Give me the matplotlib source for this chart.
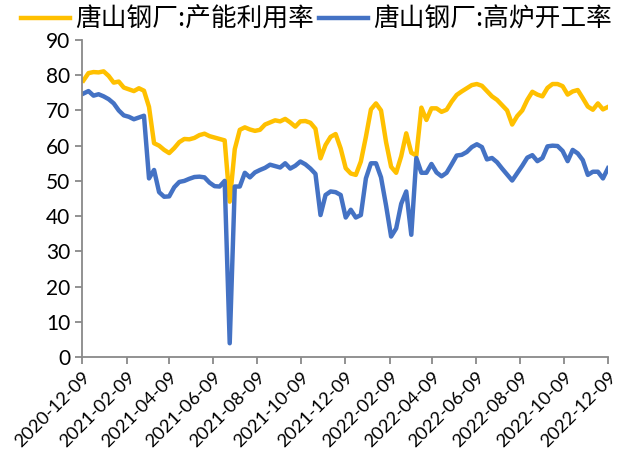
import matplotlib
matplotlib.use('Agg')
import matplotlib.pyplot as plt
import matplotlib.transforms as mtransforms
import pandas as pd

# weekly data, first observation
start_date = '2020-12-11'

# 唐山钢厂:产能利用率 (%)
capacity_util = [
    78.5, 80.6, 80.9, 80.8, 81.1, 79.8, 77.9, 78.2, 76.5, 76.0,
    75.5, 76.3, 75.6, 71.0, 60.7, 60.0, 58.8, 57.9, 59.3, 61.0,
    61.9, 61.8, 62.2, 63.0, 63.4, 62.7, 62.3, 61.9, 61.5, 44.1,
    59.0, 64.5, 65.2, 64.6, 64.2, 64.5, 66.0, 66.6, 67.2, 66.9,
    67.6, 66.6, 65.4, 66.9, 67.0, 66.5, 64.8, 56.4, 60.2, 62.5,
    63.3, 59.2, 53.6, 52.1, 51.7, 55.5, 62.5, 70.3, 72.0, 70.0,
    61.0, 54.0, 52.3, 57.0, 63.5, 58.0, 57.2, 70.8, 67.3, 70.6,
    70.6, 69.6, 70.2, 72.5, 74.4, 75.4, 76.3, 77.2, 77.5, 77.0,
    75.5, 74.0, 73.0, 71.5, 70.0, 66.0, 68.4, 70.0, 73.0, 75.3,
    74.5, 74.0, 76.4, 77.5, 77.5, 76.9, 74.5, 75.4, 75.8, 73.5,
    71.1, 70.2, 72.0, 70.3, 71.0,
]

# 唐山钢厂:高炉开工率 (%)
bf_rate = [
    74.8, 75.5, 74.2, 74.6, 74.0, 73.2, 72.0, 70.0, 68.6, 68.2,
    67.5, 68.0, 68.5, 50.7, 53.1, 46.8, 45.5, 45.6, 48.2, 49.7,
    50.0, 50.6, 51.1, 51.2, 51.0, 49.5, 48.5, 48.4, 50.0, 3.9,
    48.4, 48.4, 52.3, 51.0, 52.4, 53.1, 53.7, 54.6, 54.2, 53.8,
    55.0, 53.5, 54.3, 55.5, 54.7, 53.5, 52.0, 40.3, 46.0, 47.0,
    46.8, 46.0, 39.6, 41.8, 39.6, 40.3, 50.7, 55.0, 55.0, 51.0,
    43.0, 34.2, 36.5, 43.5, 47.0, 34.7, 56.5, 52.3, 52.3, 54.8,
    52.4, 51.3, 52.3, 54.7, 57.2, 57.4, 58.2, 59.6, 60.4, 59.6,
    56.1, 56.5, 55.3, 53.5, 51.8, 50.1, 52.2, 54.3, 56.6, 57.3,
    55.6, 56.5, 59.8, 60.0, 59.9, 58.5, 55.6, 58.8, 57.8, 55.9,
    51.7, 52.6, 52.6, 50.7, 53.6,
]

tick_labels = [
    '2020-12-09', '2021-02-09', '2021-04-09', '2021-06-09', '2021-08-09',
    '2021-10-09', '2021-12-09', '2022-02-09', '2022-04-09', '2022-06-09',
    '2022-08-09', '2022-10-09', '2022-12-09',
]
y_ticks = [0, 10, 20, 30, 40, 50, 60, 70, 80, 90]

dates = pd.date_range(start_date, periods=len(capacity_util), freq='7D')
tick_dates = pd.to_datetime(tick_labels)

plt.rcParams['font.family'] = ['Lato', 'Noto Sans CJK SC', 'DejaVu Sans']

axis_grey = '#898989'

fig = plt.figure(figsize=(6.18, 4.75), dpi=100)
ax = fig.add_axes([82 / 618, 118 / 475, 526 / 618, 317 / 475])

ax.plot(dates, capacity_util, color='#FFC000', lw=3.2, label='唐山钢厂:产能利用率')
ax.plot(dates, bf_rate, color='#4472C4', lw=3.2, label='唐山钢厂:高炉开工率')

ax.set_xlim(tick_dates[0], tick_dates[-1])
ax.set_ylim(0, 90)
ax.set_yticks(y_ticks)
ax.set_xticks(tick_dates)
ax.set_xticklabels(tick_labels, rotation=45, ha='right', va='top',
                   rotation_mode='anchor', fontsize=13.2)
ax.tick_params(axis='y', labelsize=15)

# nudge the rotated date labels like the original
offset = mtransforms.ScaledTranslation(0.01, -0.06, fig.dpi_scale_trans)
for lbl in ax.get_xticklabels():
    lbl.set_transform(lbl.get_transform() + offset)

for side in ['top', 'right']:
    ax.spines[side].set_visible(False)
for side in ['left', 'bottom']:
    ax.spines[side].set_color(axis_grey)
    ax.spines[side].set_linewidth(1.3)
ax.tick_params(direction='out', length=5, width=1.3, color=axis_grey,
               labelcolor='black')

fig.legend(loc='center', bbox_to_anchor=(0.512, 0.958), ncol=2, frameon=False,
           handlelength=1.9, handletextpad=0.2, columnspacing=0.2,
           prop={'family': ['Noto Sans CJK SC', 'DejaVu Sans'], 'size': 18.5})

fig.savefig('out.png', dpi=100)
